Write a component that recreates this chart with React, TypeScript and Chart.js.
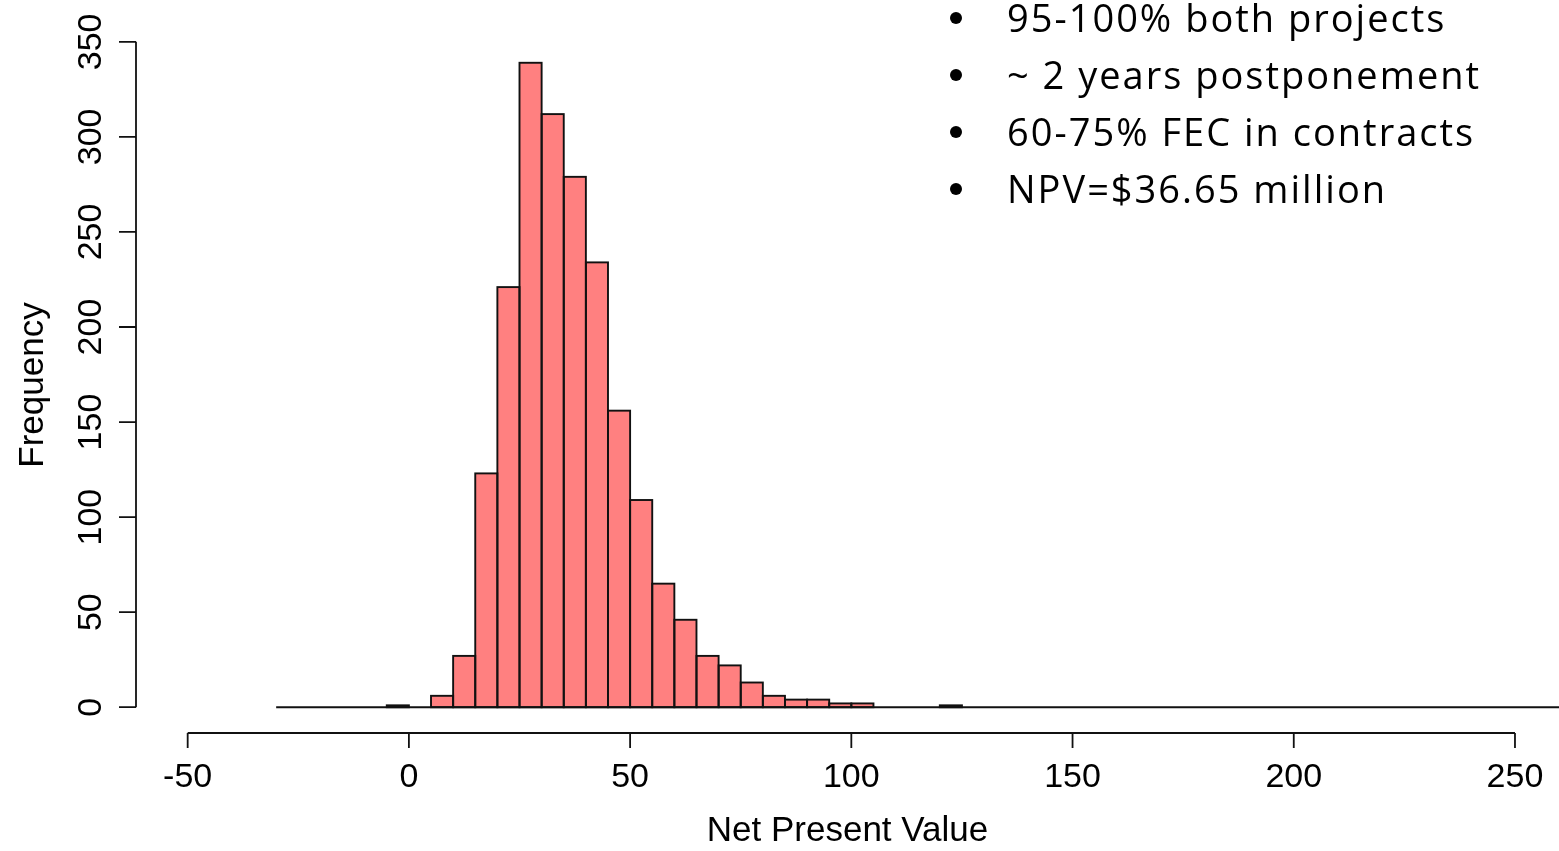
import React, { useEffect, useRef } from "react";
import { Chart, registerables } from "chart.js";

Chart.register(...registerables);

// Histogram bins: first break and width (Net Present Value, $ million)
const binStart = -30;
const binWidth = 5;
// Frequencies for bins [-30,-25), [-25,-20), ...
const counts = [
  0, 0, 0, 0, 0, 1, 0, 6, 27, 123, 221, 339, 312, 279, 234, 156, 109, 65, 46, 27,
  22, 13, 6, 4, 4, 2, 2, 0, 0, 0, 1, 0, 0, 0, 0, 0, 0, 0, 0, 0,
  0, 0, 0, 0, 0, 0, 0, 0, 0, 0, 0, 0, 0, 0, 0, 0, 0, 0, 0,
];
const xTicks = [-50, 0, 50, 100, 150, 200, 250];
const yTicks = [0, 50, 100, 150, 200, 250, 300, 350];
const xTitle = "Net Present Value";
const yTitle = "Frequency";
const notes = [
  "95-100% both projects",
  "~ 2 years postponement",
  "60-75% FEC in contracts",
  "NPV=$36.65 million",
];

const AXIS_FONT = '34px "Liberation Sans", Arial, sans-serif';
const TITLE_FONT = '35px "Liberation Sans", Arial, sans-serif';
const NOTE_FONT = '38px "Open Sans", "Noto Sans", sans-serif';

const rStylePlugin = {
  id: "rStyle",
  afterDatasetsDraw(chart: any) {
    const { ctx, chartArea } = chart;
    const xs = chart.scales.x;
    const ys = chart.scales.y;
    ctx.save();
    ctx.strokeStyle = "#111";
    ctx.fillStyle = "#000";
    ctx.lineWidth = 1.9;

    // zero-height bins line
    const y0 = ys.getPixelForValue(0);
    ctx.beginPath();
    ctx.moveTo(xs.getPixelForValue(binStart), y0);
    ctx.lineTo(xs.getPixelForValue(binStart + binWidth * counts.length), y0);
    ctx.stroke();

    // bar outlines
    const meta = chart.getDatasetMeta(0);
    meta.data.forEach((bar: any, i: number) => {
      if (counts[i] <= 0) return;
      const p = bar.getProps(["x", "y", "base", "width"], true);
      ctx.strokeRect(p.x - p.width / 2, p.y, p.width, p.base - p.y);
    });

    // y axis
    ctx.lineWidth = 1.8;
    const ax = chartArea.left;
    const yTop = ys.getPixelForValue(yTicks[yTicks.length - 1]);
    const yBot = ys.getPixelForValue(yTicks[0]);
    ctx.beginPath();
    ctx.moveTo(ax, yBot);
    ctx.lineTo(ax, yTop);
    yTicks.forEach((t) => {
      const py = ys.getPixelForValue(t);
      ctx.moveTo(ax, py);
      ctx.lineTo(ax - 17, py);
    });
    ctx.stroke();
    ctx.font = AXIS_FONT;
    ctx.textAlign = "center";
    ctx.textBaseline = "alphabetic";
    yTicks.forEach((t) => {
      const py = ys.getPixelForValue(t);
      ctx.save();
      ctx.translate(101, py);
      ctx.rotate(-Math.PI / 2);
      ctx.fillText(String(t), 0, 0);
      ctx.restore();
    });

    // x axis
    const ay = chartArea.bottom;
    ctx.beginPath();
    ctx.moveTo(xs.getPixelForValue(xTicks[0]), ay);
    ctx.lineTo(xs.getPixelForValue(xTicks[xTicks.length - 1]), ay);
    xTicks.forEach((t) => {
      const px = xs.getPixelForValue(t);
      ctx.moveTo(px, ay);
      ctx.lineTo(px, ay + 15);
    });
    ctx.stroke();
    xTicks.forEach((t) => {
      ctx.fillText(String(t), xs.getPixelForValue(t), 787);
    });

    // titles
    ctx.font = TITLE_FONT;
    ctx.fillText(xTitle, (chartArea.left + chartArea.right) / 2, 841);
    ctx.save();
    ctx.translate(43, (chartArea.top + chartArea.bottom) / 2);
    ctx.rotate(-Math.PI / 2);
    ctx.fillText(yTitle, 0, 0);
    ctx.restore();

    // bullet notes
    ctx.font = NOTE_FONT;
    ctx.textAlign = "left";
    (ctx as any).letterSpacing = "2px";
    notes.forEach((n, i) => {
      const by = 32 + i * 57;
      ctx.beginPath();
      ctx.arc(956, by - 14, 6, 0, Math.PI * 2);
      ctx.fill();
      ctx.fillText(n, 1007, by);
    });
    ctx.restore();
  },
};

export default function App() {
  const ref = useRef<HTMLCanvasElement | null>(null);
  useEffect(() => {
    if (!ref.current) return;
    const chart = new Chart(ref.current, {
      type: "bar",
      data: {
        datasets: [
          {
            data: counts.map((c, i) => ({ x: binStart + binWidth * (i + 0.5), y: c })),
            backgroundColor: "#FF8080",
            borderWidth: 0,
            barPercentage: 1,
            categoryPercentage: 1,
            inflateAmount: 0,
          } as any,
        ],
      },
      options: {
        responsive: false,
        animation: false,
        layout: { padding: { left: 136, right: 0, top: 37, bottom: 118 } },
        scales: {
          x: { type: "linear", min: -61.68, max: 259.95, display: false, offset: false },
          y: { type: "linear", min: -13.56, max: 352.56, display: false },
        },
        plugins: { legend: { display: false }, tooltip: { enabled: false } },
      },
      plugins: [rStylePlugin],
    });
    return () => chart.destroy();
  }, []);
  return (
    <div style={{ position: "fixed", left: 0, top: 0, width: 1559, height: 851, background: "#fff" }}>
      <canvas ref={ref} width={1559} height={851} style={{ display: "block" }} />
    </div>
  );
}
